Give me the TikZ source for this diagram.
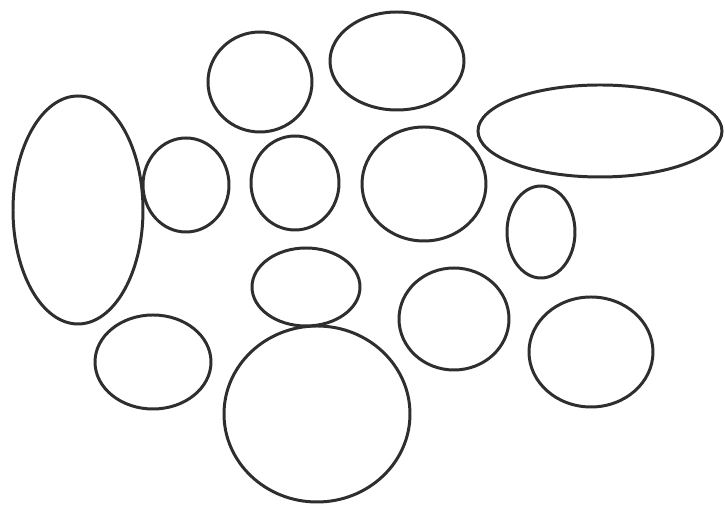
\documentclass[tikz,border=0pt]{standalone}
\usepackage{tikz}
\tikzset{
  ring/.style={draw=black!82,line width=1.7pt},
}
\begin{document}
\begin{tikzpicture}[x=0.02cm,y=-0.02cm]
    \useasboundingbox (0,0) rectangle (725,509);
    % centre x / centre y / x radius / y radius, in pixels of the sketch
    \foreach \cx/\cy/\rx/\ry in {
        78/210/65/114,   % tall one, left
        186/185/43/47,
        260/82/52/50,
        397/61/67/49,
        295/183/44/47,
        424/184/62/57,
        600/131/122/46,  % flat one, right
        541/232/34/46,
        306/287/54/39,
        454/319/55/51,
        591/352/62/55,
        153/362/58/47,
        317/414/93/88} {
      \draw[ring] (\cx,\cy) ellipse [x radius=\rx, y radius=\ry];
    }
  \end{tikzpicture}
\end{document}
